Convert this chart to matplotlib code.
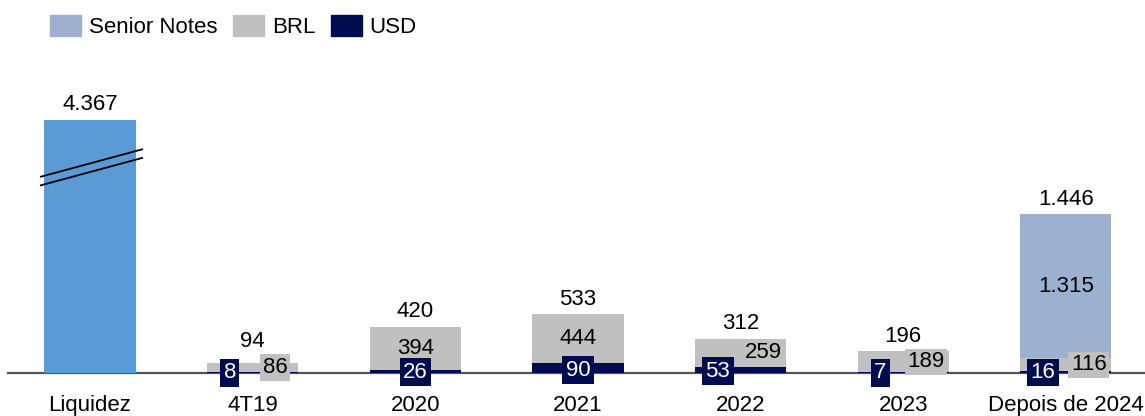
import numpy as np
import matplotlib
matplotlib.use("Agg")
import matplotlib.pyplot as plt
from matplotlib.patches import Patch

plt.rcParams['font.family'] = ['Liberation Sans', 'DejaVu Sans']

# dados
categorias = ['Liquidez', '4T19', '2020', '2021', '2022', '2023', 'Depois de 2024']
liquidez = 4367
usd = [8, 26, 90, 53, 7, 16]
brl = [86, 394, 444, 259, 189, 116]
senior = [0, 0, 0, 0, 0, 1315]
totais = [94, 420, 533, 312, 196, 1446]

c_liq = '#5B9BD5'
c_senior = '#9CB0D0'
c_brl = '#C0C0C0'
c_usd = '#000C50'

fs = 16
largura = 0.56
corte = 2300  # altura desenhada da barra de liquidez (eixo quebrado)

fig = plt.figure(figsize=(11.45, 4.16), dpi=100)
ax = fig.add_axes([8 / 1145, 43 / 416, 1137 / 1145, 373 / 416])
ax.set_xlim(-0.504, 6.486)
ax.set_ylim(0, 3391)

x = np.arange(len(categorias))

def fmt(v):
    return f'{v:,}'.replace(',', '.')

# liquidez
ax.bar(x[0], corte, largura, color=c_liq)
ax.text(x[0], corte + 45, fmt(liquidez), ha='center', va='bottom', fontsize=fs)
for a, b in [(0.775, 0.885), (0.741, 0.851)]:
    ax.plot([-0.307, 0.326], [corte * a, corte * b], color='black', lw=1.3, solid_capstyle='butt')

# vencimentos empilhados
xs = x[1:]
usd_a = np.array(usd)
brl_a = np.array(brl)
sen_a = np.array(senior)
ax.bar(xs, usd_a, largura, color=c_usd)
ax.bar(xs, brl_a, largura, bottom=usd_a, color=c_brl)
ax.bar(xs, sen_a, largura, bottom=usd_a + brl_a, color=c_senior)

for i, xi in enumerate(xs):
    desloc = 0 if brl[i] >= 300 else 0.14
    # BRL
    ax.text(xi + desloc, usd[i] + brl[i] / 2, fmt(brl[i]), ha='center', va='center', fontsize=fs,
            bbox=dict(boxstyle='square,pad=0.12', fc=c_brl, ec='none'))
    # USD
    ax.text(xi - desloc, usd[i] * 0.3, fmt(usd[i]), ha='center', va='center', fontsize=fs, color='white',
            bbox=dict(boxstyle='square,pad=0.15', fc=c_usd, ec='none'))
    if senior[i]:
        ax.text(xi, usd[i] + brl[i] + senior[i] / 2, fmt(senior[i]), ha='center', va='center', fontsize=fs)
    ax.text(xi, max(totais[i], 150) + 40, fmt(totais[i]), ha='center', va='bottom', fontsize=fs)

for s in ['top', 'right', 'left']:
    ax.spines[s].set_visible(False)
ax.spines['bottom'].set_color('#555555')
ax.spines['bottom'].set_linewidth(1.6)
ax.spines['bottom'].set_zorder(0.5)
ax.set_yticks([])
ax.set_xticks(x)
ax.set_xticklabels(categorias, fontsize=fs)
ax.tick_params(axis='x', length=0, pad=16)

handles = [Patch(color=c_senior, label='Senior Notes'),
           Patch(color=c_brl, label='BRL'),
           Patch(color=c_usd, label='USD')]
fig.legend(handles=handles, loc='upper left', bbox_to_anchor=(50 / 1145, 1 - 15 / 416), ncol=3,
           frameon=False, fontsize=fs, handlelength=1.4, handleheight=1.1, handletextpad=0.35,
           columnspacing=0.7, borderpad=0, borderaxespad=0)

fig.savefig('out.png', dpi=100)
